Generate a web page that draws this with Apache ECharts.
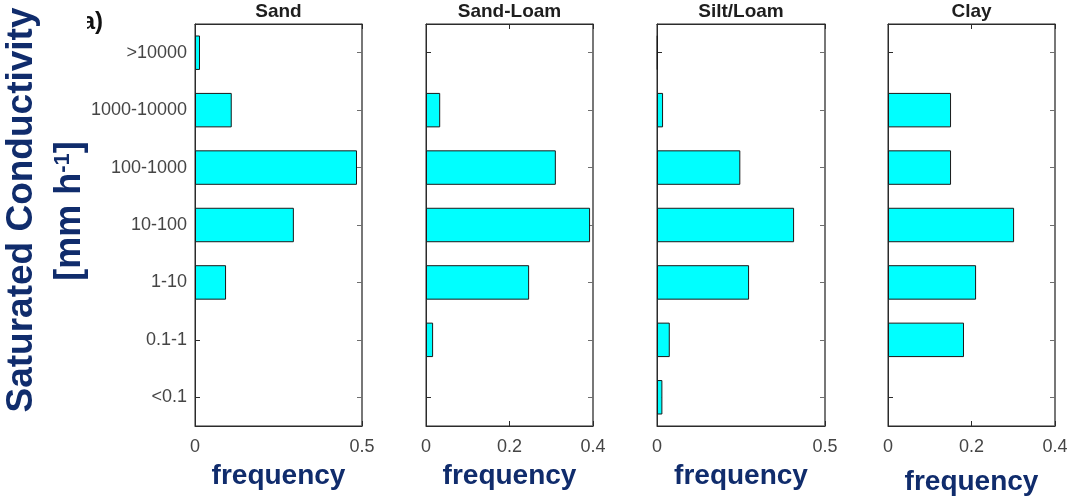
<!DOCTYPE html>
<html>
<head>
<meta charset="utf-8">
<script src="https://cdn.jsdelivr.net/npm/echarts@6/dist/echarts.min.js"></script>
<style>
  html, body { margin: 0; padding: 0; background: #fff; }
  #chart { width: 1070px; height: 498px; }
</style>
</head>
<body>
<div id="chart"></div>
<script>
// Saturated conductivity classes, top to bottom [mm h-1]
const classes = ['>10000', '1000-10000', '100-1000', '10-100', '1-10', '0.1-1', '<0.1'];

// Relative frequency of each class per soil texture group
const sand      = [0.015, 0.11, 0.485, 0.296, 0.093, 0, 0];
const sandLoam  = [0, 0.034, 0.311, 0.393, 0.247, 0.017, 0];
const siltLoam  = [0.002, 0.018, 0.248, 0.408, 0.274, 0.038, 0.016];
const clay      = [0, 0.151, 0.151, 0.302, 0.211, 0.182, 0];

const panelTitles = ['Sand', 'Sand-Loam', 'Silt/Loam', 'Clay'];
const panelData   = [sand, sandLoam, siltLoam, clay];
const xMax        = [0.5, 0.4, 0.5, 0.4];
const xStep       = [0.5, 0.2, 0.5, 0.2];

const navy = '#102c6c';
const frame = '#2b2b2b';
const frameLight = '#6e6e6e';
const tickText = '#454545';
const font = 'Liberation Sans, Arial, Helvetica, sans-serif';

const layout = [
  { left: 195, width: 167, gap: 36 },
  { left: 426, width: 167, gap: 36 },
  { left: 657, width: 168, gap: 36 },
  { left: 888, width: 167, gap: 42 }
];
const plotTop = 24, plotHeight = 402;

const grids = [], xAxes = [], yAxes = [], series = [], graphics = [];

layout.forEach((p, i) => {
  grids.push({
    left: p.left, top: plotTop, width: p.width, height: plotHeight,
    outerBoundsMode: 'none', containLabel: false,
    show: true, borderColor: frame, borderWidth: 1, backgroundColor: '#fff'
  });
  // bottom value axis with labels and title
  xAxes.push({
    type: 'value', gridIndex: i, min: 0, max: xMax[i], interval: xStep[i],
    position: 'bottom',
    axisLine: { show: true, onZero: false, lineStyle: { color: frame, width: 1 } },
    axisTick: { show: true, inside: true, length: 5, lineStyle: { color: frame } },
    axisLabel: { show: true, color: tickText, fontSize: 18, fontFamily: font, margin: 12 },
    splitLine: { show: false },
    name: 'frequency', nameLocation: 'middle', nameGap: p.gap,
    nameTextStyle: { color: navy, fontSize: 28, fontWeight: 'bold', fontFamily: font }
  });
  // top value axis: ticks only
  xAxes.push({
    type: 'value', gridIndex: i, min: 0, max: xMax[i], interval: xStep[i],
    position: 'top',
    axisLine: { show: true, onZero: false, lineStyle: { color: frame, width: 1 } },
    axisTick: { show: true, inside: true, length: 5, lineStyle: { color: frame } },
    axisLabel: { show: false },
    splitLine: { show: false }
  });
  // left category axis
  yAxes.push({
    type: 'category', gridIndex: i, data: classes, inverse: true,
    position: 'left',
    axisLine: { show: true, onZero: false, lineStyle: { color: frame, width: 1 } },
    axisTick: { show: true, inside: true, length: 5, alignWithLabel: true, lineStyle: { color: frame } },
    axisLabel: { show: i === 0, color: tickText, fontSize: 18, fontFamily: font, margin: 8 },
    splitLine: { show: false }
  });
  // right category axis: ticks only
  yAxes.push({
    type: 'category', gridIndex: i, data: classes, inverse: true,
    position: 'right',
    axisLine: { show: true, onZero: false, lineStyle: { color: frameLight, width: 1.5 } },
    axisTick: { show: true, inside: true, length: 5, alignWithLabel: true, lineStyle: { color: frameLight } },
    axisLabel: { show: false },
    splitLine: { show: false }
  });
  series.push({
    type: 'bar',
    xAxisIndex: i * 2, yAxisIndex: i * 2,
    // empty classes get no outline so no stray stroke sits on the axis
    data: panelData[i].map(v => v === 0 ? { value: v, itemStyle: { borderWidth: 0 } } : v),
    barWidth: '60%',
    itemStyle: { color: '#00ffff', borderColor: '#1a1a1a', borderWidth: 1 },
    silent: true
  });
  graphics.push({
    type: 'text', x: p.left + p.width / 2, y: 12,
    style: {
      text: panelTitles[i], fill: '#1e1e1e', font: 'bold 19px ' + font,
      textAlign: 'center', textVerticalAlign: 'middle'
    }
  });
});

// panel tag (its left edge is trimmed)
graphics.push({
  type: 'text', x: 103, y: 22, z: 1,
  style: { text: 'a)', fill: '#111', font: 'bold 24px ' + font, textAlign: 'right', textVerticalAlign: 'middle' }
});
graphics.push({
  type: 'rect', z: 2, shape: { x: 60, y: 0, width: 27, height: 45 },
  style: { fill: '#fff' }
});

// shared y-axis title, two lines rotated
graphics.push({
  type: 'text', x: 22, y: 210, rotation: Math.PI / 2,
  style: {
    text: 'Saturated Conductivity', fill: navy, font: 'bold 37px ' + font,
    textAlign: 'center', textVerticalAlign: 'middle'
  }
});
graphics.push({
  type: 'text', x: 70, y: 211, rotation: Math.PI / 2,
  style: {
    text: '[mm h{sup|-1}]', fill: navy, font: 'bold 36px ' + font,
    textAlign: 'center', textVerticalAlign: 'middle',
    rich: {
      sup: { fill: navy, font: 'bold 22px ' + font, verticalAlign: 'top', padding: [0, 0, 14, 0] }
    }
  }
});

const chart = echarts.init(document.getElementById('chart'), null, { renderer: 'canvas' });
chart.setOption({
  animation: false,
  backgroundColor: '#fff',
  grid: grids,
  xAxis: xAxes,
  yAxis: yAxes,
  series: series,
  graphic: graphics
});
</script>
</body>
</html>
